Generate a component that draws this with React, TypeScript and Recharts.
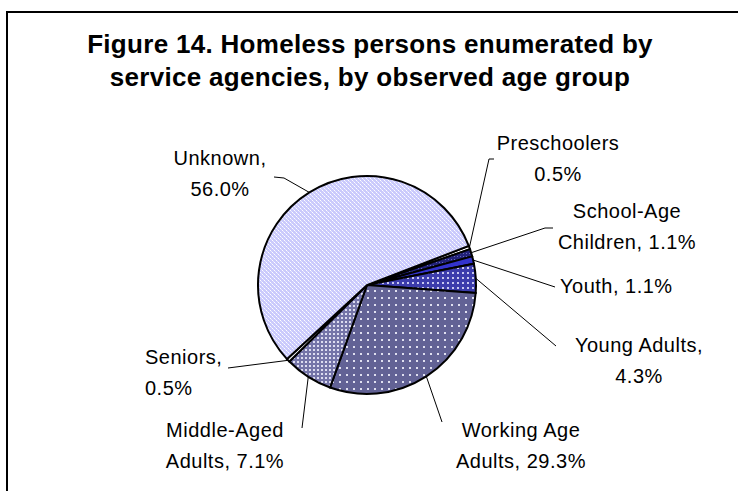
import React from "react";
import { PieChart, Pie, Cell } from "recharts";

const categories = [
  "Preschoolers",
  "School-Age Children",
  "Youth",
  "Young Adults",
  "Working Age Adults",
  "Middle-Aged Adults",
  "Seniors",
  "Unknown",
];
const shares = [0.5, 1.1, 1.1, 4.3, 29.3, 7.1, 0.5, 56.0];
const titleLines = [
  "Figure 14. Homeless persons enumerated by",
  "service agencies, by observed age group",
];

const fills = [
  "#ffffff",
  "url(#pSchool)",
  "url(#pYouth)",
  "url(#pYoung)",
  "url(#pWorking)",
  "url(#pMiddle)",
  "#ffffff",
  "url(#pUnknown)",
];

// label layout: anchor, position, number of words on first line, whether to keep comma, leader points
const labelLayout: {
  anchor: "start" | "middle" | "end";
  x: number;
  y: number;
  split: number;
  comma: boolean;
  leader: [number, number][];
}[] = [
  { anchor: "middle", x: 558, y: 150, split: 1, comma: false, leader: [[489, 159], [494, 159]] },
  { anchor: "middle", x: 627, y: 218, split: 1, comma: true, leader: [[545, 228], [553, 228]] },
  { anchor: "start", x: 560, y: 293, split: 99, comma: true, leader: [[555, 287]] },
  { anchor: "middle", x: 639, y: 352, split: 2, comma: true, leader: [[556, 346]] },
  { anchor: "middle", x: 521, y: 437, split: 2, comma: true, leader: [[442, 422]] },
  { anchor: "middle", x: 225, y: 437, split: 1, comma: true, leader: [[302, 428]] },
  { anchor: "start", x: 145, y: 364, split: 1, comma: true, leader: [[228, 368]] },
  { anchor: "middle", x: 220, y: 165, split: 1, comma: true, leader: [[284, 178], [274, 177]] },
];

const data = categories.map((name, i) => ({ name, value: shares[i] }));

const FONT = "'Liberation Sans', Arial, sans-serif";
const RAD = Math.PI / 180;

const renderLabel = (props: any) => {
  const { cx, cy, midAngle, outerRadius, index, name, value } = props;
  const L = labelLayout[index];
  const px = cx + outerRadius * Math.cos(-midAngle * RAD);
  const py = cy + outerRadius * Math.sin(-midAngle * RAD);
  const pts = [[px, py], ...L.leader].map((p) => p.join(",")).join(" ");
  const full = `${name}${L.comma ? "," : ""} ${Number(value).toFixed(1)}%`;
  const words = full.split(" ");
  const lines =
    L.split >= words.length
      ? [full]
      : [words.slice(0, L.split).join(" "), words.slice(L.split).join(" ")];
  return (
    <g key={`lbl-${index}`}>
      <polyline points={pts} fill="none" stroke="#000" strokeWidth={1} />
      <text
        x={L.x}
        y={L.y}
        textAnchor={L.anchor}
        fontFamily={FONT}
        fontSize={20}
        letterSpacing={0.5}
        fill="#000"
      >
        {lines.map((ln, k) => (
          <tspan key={k} x={L.x} dy={k === 0 ? 0 : 31}>
            {ln}
          </tspan>
        ))}
      </text>
    </g>
  );
};

export default function App() {
  return (
    <div
      style={{
        position: "fixed",
        left: 0,
        top: 0,
        width: 738,
        height: 491,
        overflow: "hidden",
        background: "#fff",
      }}
    >
      <svg width={0} height={0} style={{ position: "absolute" }}>
        <defs>
          <pattern id="pUnknown" width={4} height={4} patternUnits="userSpaceOnUse">
            <rect width={4} height={4} fill="#cacafc" />
            <rect x={0} y={0} width={1} height={1} fill="#ffffff" />
            <rect x={2} y={2} width={1} height={1} fill="#ffffff" />
            <rect x={1} y={1} width={1} height={1} fill="#e8e8ff" />
            <rect x={3} y={3} width={1} height={1} fill="#e8e8ff" />
          </pattern>
          <pattern id="pWorking" width={7} height={7} patternUnits="userSpaceOnUse">
            <rect width={7} height={7} fill="#626295" />
            <rect x={3} y={3} width={2} height={2} fill="#e0e0f0" />
          </pattern>
          <pattern id="pMiddle" width={4} height={4} patternUnits="userSpaceOnUse">
            <rect width={4} height={4} fill="#7474a8" />
            <rect x={1} y={1} width={2} height={2} fill="#dcdcf0" />
          </pattern>
          <pattern id="pYoung" width={5} height={5} patternUnits="userSpaceOnUse">
            <rect width={5} height={5} fill="#3c3cac" />
            <rect x={2} y={2} width={2} height={2} fill="#c8c8f0" />
          </pattern>
          <pattern id="pYouth" width={4} height={4} patternUnits="userSpaceOnUse">
            <rect width={4} height={4} fill="#3333cc" />
          </pattern>
          <pattern id="pSchool" width={3} height={3} patternUnits="userSpaceOnUse">
            <rect width={3} height={3} fill="#22227a" />
            <rect x={1} y={1} width={1} height={1} fill="#6a6ab8" />
          </pattern>
        </defs>
      </svg>
      <div
        style={{
          position: "absolute",
          left: 6,
          top: 11,
          width: 900,
          height: 700,
          borderTop: "2px solid #000",
          borderLeft: "2px solid #000",
        }}
      />
      <div
        style={{
          position: "absolute",
          left: 0,
          top: 28,
          width: 740,
          textAlign: "center",
          fontFamily: FONT,
          fontWeight: "bold",
          fontSize: 26,
          letterSpacing: 0.3,
          lineHeight: "33px",
          color: "#000",
        }}
      >
        {titleLines.map((t, i) => (
          <div key={i}>{t}</div>
        ))}
      </div>
      <div style={{ position: "absolute", left: 0, top: 0 }}>
        <PieChart width={738} height={491} margin={{ top: 0, right: 0, bottom: 0, left: 0 }}>
          <Pie
            data={data}
            dataKey="value"
            nameKey="name"
            cx={367}
            cy={285}
            outerRadius={109}
            startAngle={21}
            endAngle={-339}
            stroke="#000"
            strokeWidth={2}
            label={renderLabel}
            labelLine={false}
            isAnimationActive={false}
          >
            {data.map((d, i) => (
              <Cell key={d.name} fill={fills[i]} stroke="#000" strokeWidth={2} />
            ))}
          </Pie>
        </PieChart>
      </div>
    </div>
  );
}
